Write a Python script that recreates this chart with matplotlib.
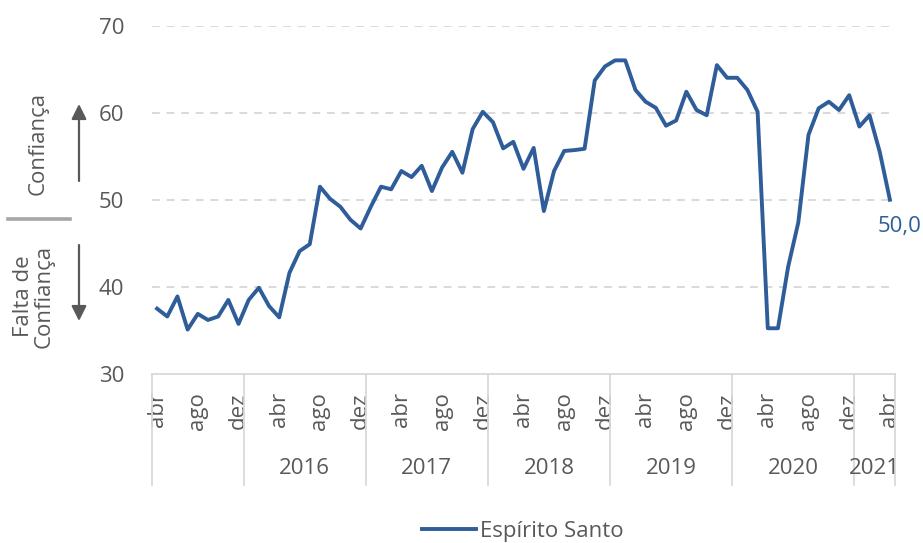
import matplotlib
matplotlib.use("Agg")
import matplotlib.pyplot as plt
from matplotlib.patches import FancyArrowPatch
from matplotlib.lines import Line2D
import matplotlib.transforms as mtransforms

plt.rcParams['font.family'] = ['Open Sans', 'DejaVu Sans']

# ---- data ----
years = ["", "2016", "2017", "2018", "2019", "2020", "2021"]
months_per_year = [9, 12, 12, 12, 12, 12, 4]
month_names = ["jan", "fev", "mar", "abr", "mai", "jun", "jul", "ago", "set", "out", "nov", "dez"]
values = [
    # 2015 (abr-dez)
    37.5, 36.6, 38.9, 35.1, 36.9, 36.2, 36.6, 38.5, 35.75,
    # 2016
    38.5, 39.9, 37.8, 36.5, 41.6, 44.1, 44.9, 51.5, 50.1, 49.2, 47.7, 46.7,
    # 2017
    49.2, 51.5, 51.2, 53.3, 52.6, 53.9, 51.0, 53.7, 55.5, 53.1, 58.1, 60.1,
    # 2018
    58.9, 55.9, 56.65, 53.55, 55.95, 48.7, 53.3, 55.6, 55.7, 55.85, 63.7, 65.3,
    # 2019
    66.0, 66.0, 62.6, 61.25, 60.55, 58.5, 59.1, 62.4, 60.3, 59.7, 65.45, 64.0,
    # 2020
    64.0, 62.6, 60.1, 35.25, 35.25, 42.3, 47.4, 57.45, 60.5, 61.25, 60.3, 62.0,
    # 2021
    58.4, 59.7, 55.5, 50.0,
]
series_name = "Espírito Santo"
last_label = "50,0"
yticks = [30, 40, 50, 60, 70]

# month labels per point
month_labels = []
start_month = 3  # abr
m = start_month
for n in months_per_year:
    for _ in range(n):
        month_labels.append(month_names[m % 12])
        m += 1

LINE = "#2E5D99"
TXT = "#595959"
GRID = "#D9D9D9"
FS = 16

W, H = 923, 543
fig = plt.figure(figsize=(W / 100, H / 100), dpi=100)
ax = fig.add_axes([152 / W, 1 - 374 / H, (895 - 152) / W, (374 - 25.5) / H])

x = list(range(len(values)))
ax.plot(x, values, color=LINE, lw=2.8, solid_joinstyle='round', label=series_name, clip_on=False)

ax.set_xlim(-0.5, len(values) - 0.5)
ax.set_ylim(30, 70)
ax.set_yticks(yticks)
ax.set_yticklabels([str(v) for v in yticks], fontsize=FS, color=TXT)
ax.tick_params(axis='y', length=0, pad=20)
for v in yticks[1:]:
    ax.axhline(v, color=GRID, lw=1.4, ls=(0, (4, 3.5)), zorder=0)

tick_idx = list(range(0, len(values), 4))
ax.set_xticks(tick_idx)
ax.set_xticklabels([month_labels[i] for i in tick_idx], rotation=90, fontsize=FS,
                   color=TXT, ha='center', va='top')
ax.tick_params(axis='x', length=0, pad=13)

for s in ['left', 'right', 'top']:
    ax.spines[s].set_visible(False)
ax.spines['bottom'].set_color(GRID)
ax.spines['bottom'].set_linewidth(1.3)

# year group separators and labels
trans = mtransforms.blended_transform_factory(ax.transData, ax.transAxes)
sep_bottom = -(485 - 374) / (374 - 25.5)
year_y = -(468 - 374) / (374 - 25.5)
pos = -0.5
edges = [pos]
for n in months_per_year:
    pos += n
    edges.append(pos)
for e in edges:
    ax.add_line(Line2D([e, e], [0, sep_bottom], transform=trans, color=GRID, lw=1.3, clip_on=False))
for i, yr in enumerate(years):
    if yr:
        ax.text((edges[i] + edges[i + 1]) / 2, year_y, yr, transform=trans, ha='center',
                va='center', fontsize=FS, color=TXT)

# last data label
ax.annotate(last_label, (x[-1], values[-1]), xytext=(7, -19), textcoords='offset points',
            ha='center', va='center', fontsize=FS, color=LINE, annotation_clip=False)

# left-side annotations
fig.text(38 / W, 1 - 143 / H, "Confiança", rotation=90, ha='center', va='center',
         fontsize=FS, color=TXT)
fig.text(34 / W, 1 - 296 / H, "Falta de\nConfiança", rotation=90, ha='center', va='center',
         fontsize=FS, color=TXT, multialignment='center', linespacing=1.0)
fig.add_artist(Line2D([8 / W, 70 / W], [1 - 219 / H, 1 - 219 / H], transform=fig.transFigure,
                      color="#A6A6A6", lw=2.6))
fig.add_artist(FancyArrowPatch((79 / W, 1 - 181 / H), (79 / W, 1 - 104 / H), transform=fig.transFigure,
                               arrowstyle='-|>,head_length=9,head_width=4.5', color=TXT, lw=1.6,
                               mutation_scale=1, shrinkA=0, shrinkB=0))
fig.add_artist(FancyArrowPatch((79 / W, 1 - 245 / H), (79 / W, 1 - 321 / H), transform=fig.transFigure,
                               arrowstyle='-|>,head_length=9,head_width=4.5', color=TXT, lw=1.6,
                               mutation_scale=1, shrinkA=0, shrinkB=0))

fig.legend(loc='center', bbox_to_anchor=(523 / W, 1 - 531 / H), frameon=False, fontsize=FS,
           handlelength=2.4, handletextpad=0.2, labelcolor=TXT)

fig.savefig("out.png", dpi=100)
